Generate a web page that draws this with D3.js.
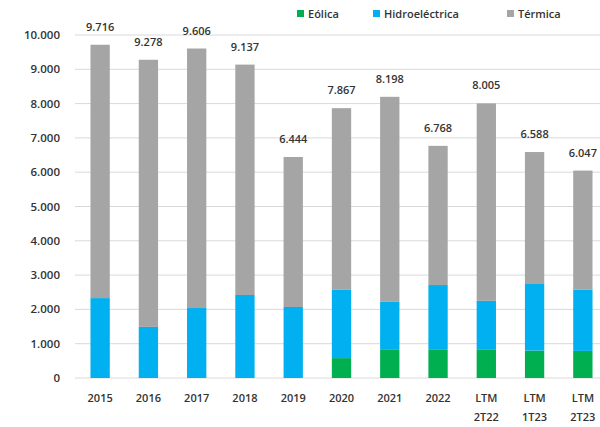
<!DOCTYPE html>
<html>
<head>
<meta charset="utf-8">
<script src="https://cdn.jsdelivr.net/npm/d3@7"></script>
<style>
  body { margin: 0; background: #fff; }
  svg { display: block; font-family: "Open Sans", sans-serif; }
</style>
</head>
<body>
<div id="chart"></div>
<script>
const categories = ['2015', '2016', '2017', '2018', '2019', '2020', '2021', '2022', 'LTM 2T22', 'LTM 1T23', 'LTM 2T23'];
const eolica = [0, 0, 0, 0, 0, 580, 820, 820, 820, 800, 790];
const hidro = [2330, 1490, 2040, 2420, 2070, 1990, 1400, 1890, 1430, 1940, 1780];
const totals = [9716, 9278, 9606, 9137, 6444, 7867, 8198, 6768, 8005, 6588, 6047];
const totalLabels = ['9.716', '9.278', '9.606', '9.137', '6.444', '7.867', '8.198', '6.768', '8.005', '6.588', '6.047'];
const yTicks = [0, 1000, 2000, 3000, 4000, 5000, 6000, 7000, 8000, 9000, 10000];
const series = ['Eólica', 'Hidroeléctrica', 'Térmica'];
const colors = ['#00b050', '#00b0f0', '#a5a5a5'];

const width = 600;
const height = 427;

const rows = categories.map((c, i) => ({
  cat: c,
  'Eólica': eolica[i],
  'Hidroeléctrica': hidro[i],
  'Térmica': totals[i] - eolica[i] - hidro[i],
  total: totals[i],
  label: totalLabels[i]
}));

const svg = d3.select('#chart')
  .append('svg')
  .attr('width', width)
  .attr('height', height);

const x = d3.scaleBand()
  .domain(categories)
  .range([76, 607])
  .paddingInner(0.6)
  .paddingOuter(0.3);

const y = d3.scaleLinear()
  .domain([0, 10000])
  .range([378, 35]);

const fmt = v => d3.format(',')(v).replace(/,/g, '.');

// grid
svg.append('g')
  .selectAll('line')
  .data(yTicks)
  .join('line')
  .attr('x1', 75)
  .attr('x2', 600)
  .attr('y1', d => y(d))
  .attr('y2', d => y(d))
  .attr('stroke', '#d9d9d9')
  .attr('stroke-width', 1);

// y labels
svg.append('g')
  .selectAll('text')
  .data(yTicks)
  .join('text')
  .attr('x', 60)
  .attr('y', d => y(d))
  .attr('dy', '0.35em')
  .attr('text-anchor', 'end')
  .text(d => fmt(d))
  .style('font-size', '11.5px')
  .style('font-weight', '600')
  .style('fill', '#333');

// stacked bars
const stack = d3.stack().keys(series)(rows);

svg.append('g')
  .selectAll('g')
  .data(stack)
  .join('g')
  .attr('fill', (d, i) => colors[i])
  .selectAll('rect')
  .data(d => d)
  .join('rect')
  .attr('x', d => x(d.data.cat))
  .attr('width', x.bandwidth())
  .attr('y', d => y(d[1]))
  .attr('height', d => y(d[0]) - y(d[1]));

// total labels
svg.append('g')
  .selectAll('text')
  .data(rows)
  .join('text')
  .attr('x', d => x(d.cat) + x.bandwidth() / 2)
  .attr('y', d => y(d.total) - 14)
  .attr('text-anchor', 'middle')
  .text(d => d.label)
  .style('font-size', '11px')
  .style('font-weight', '600')
  .style('fill', '#333');

// x labels
const xl = svg.append('g')
  .selectAll('text')
  .data(rows)
  .join('text')
  .attr('x', d => x(d.cat) + x.bandwidth() / 2)
  .attr('y', 402)
  .attr('text-anchor', 'middle')
  .style('font-size', '11px')
  .style('font-weight', '600')
  .style('fill', '#333');

xl.selectAll('tspan')
  .data(d => d.cat.split(' '))
  .join('tspan')
  .attr('x', function() { return d3.select(this.parentNode).attr('x'); })
  .attr('dy', (d, i) => i === 0 ? 0 : 19)
  .text(d => d);

// legend
const legendX = [297, 373, 507];
const legend = svg.append('g')
  .selectAll('g')
  .data(series)
  .join('g')
  .attr('transform', (d, i) => `translate(${legendX[i]},14)`);

legend.append('rect')
  .attr('x', 0)
  .attr('y', -4)
  .attr('width', 7)
  .attr('height', 7)
  .attr('fill', (d, i) => colors[i]);

legend.append('text')
  .attr('x', 11)
  .attr('y', 0)
  .attr('dy', '0.35em')
  .text(d => d)
  .style('font-size', '11px')
  .style('font-weight', '600')
  .style('fill', '#333');
</script>
</body>
</html>
